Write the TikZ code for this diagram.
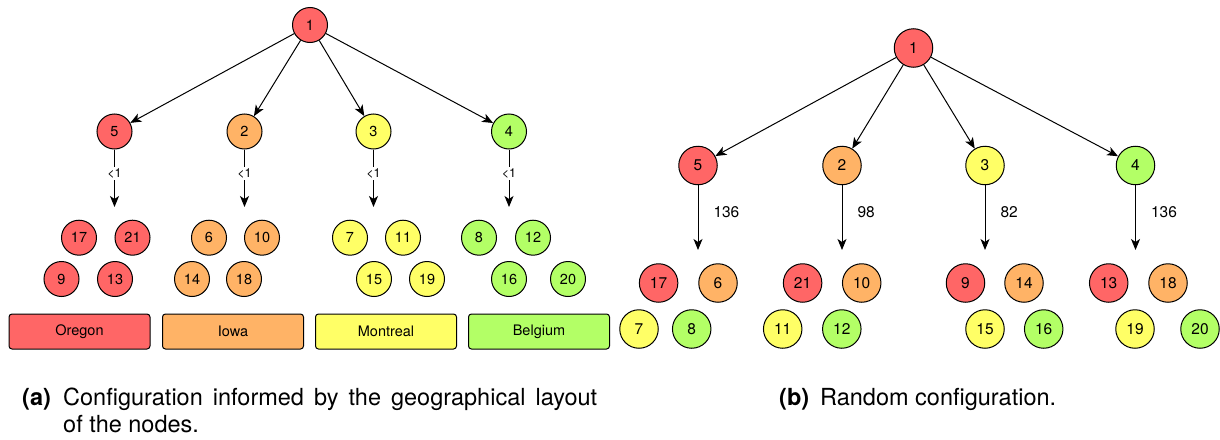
\documentclass[tikz,border=0pt]{standalone}
\usepackage{fontspec}
\setmainfont{TeX Gyre Heros}
\usetikzlibrary{arrows.meta}
\definecolor{cred}{HTML}{FF6666}
\definecolor{corange}{HTML}{FFB366}
\definecolor{cyellow}{HTML}{FFFF66}
\definecolor{cgreen}{HTML}{B3FF66}
\tikzset{
  sa/.style={circle, draw=black, line width=1pt, minimum size=35pt, inner sep=0pt, font=\fontsize{14.5}{16}\selectfont},
  sb/.style={circle, draw=black, line width=1pt, minimum size=38.5pt, inner sep=0pt, font=\fontsize{15.5}{17}\selectfont},
  fr/.style={fill=cred},
  fo/.style={fill=corange},
  fy/.style={fill=cyellow},
  fg/.style={fill=cgreen},
  arr/.style={-{Stealth[length=11pt,width=9pt,inset=3pt]}, line width=1pt},
  lbl/.style={fill=white, inner sep=1.5pt, font=\fontsize{12.5}{14}\selectfont},
  lblb/.style={anchor=west, inner sep=0pt, xshift=15pt, font=\fontsize{15.5}{17}\selectfont},
  regionbox/.style={draw=black, rounded corners=3pt, line width=1pt, minimum width=141pt, minimum height=35pt, inner sep=0pt, font=\fontsize{14.5}{16}\selectfont},
  capfont/.style={inner sep=0pt, font=\fontsize{23.5}{27}\selectfont}
}
\begin{document}
\begin{tikzpicture}[x=1pt,y=-1pt]
\useasboundingbox (0,0) rectangle (1220,439);
% ---------- (a) ----------
\node[sa,fr] (a1) at (310,25) {1};
\node[sa,fr] (a5) at (114.5,131.5) {5};
\node[sa,fo] (a2) at (244.5,131.5) {2};
\node[sa,fy] (a3) at (373.5,131.5) {3};
\node[sa,fg] (a4) at (509,131.5) {4};
\foreach \n in {a5,a2,a3,a4} \draw[arr] (a1) -- (\n);
\coordinate (a5e) at (114.5,207);
\coordinate (a2e) at (244.5,207);
\coordinate (a3e) at (373.5,207);
\coordinate (a4e) at (509,207);
\foreach \n in {a5,a2,a3,a4} \draw[arr] (\n) -- node[lbl,pos=0.42]{<1} (\n e);
% small nodes row 1
\node[sa,fr] (a17) at (79,237.7) {17};
\node[sa,fr] (a21) at (132.5,237.7) {21};
\node[sa,fo] (a6) at (209,237.7) {6};
\node[sa,fo] (a10) at (262,237.7) {10};
\node[sa,fy] (a7) at (350,237.7) {7};
\node[sa,fy] (a11) at (403,237.7) {11};
\node[sa,fg] (a8) at (479,237.7) {8};
\node[sa,fg] (a12) at (533,237.7) {12};
% small nodes row 2
\node[sa,fr] (a9) at (61.5,279) {9};
\node[sa,fr] (a13) at (115,279) {13};
\node[sa,fo] (a14) at (192,279) {14};
\node[sa,fo] (a18) at (244,279) {18};
\node[sa,fy] (a15) at (374,279) {15};
\node[sa,fy] (a19) at (427,279) {19};
\node[sa,fg] (a16) at (509,279) {16};
\node[sa,fg] (a20) at (568,279) {20};
% region boxes
\node[regionbox,fr] (oregon) at (79.5,331.5) {Oregon};
\node[regionbox,fo] (iowa) at (233,331.5) {Iowa};
\node[regionbox,fy] (montreal) at (386,331.5) {Montreal};
\node[regionbox,fg] (belgium) at (539,331.5) {Belgium};
% ---------- (b) ----------
\node[sb,fr] (b1) at (913.5,48) {1};
\node[sb,fr] (b5) at (698,165.5) {5};
\node[sb,fo] (b2) at (842,165.5) {2};
\node[sb,fy] (b3) at (985,165.5) {3};
\node[sb,fg] (b4) at (1135.5,165.5) {4};
\foreach \n in {b5,b2,b3,b4} \draw[arr] (b1) -- (\n);
\coordinate (b5e) at (698,250);
\coordinate (b2e) at (842,250);
\coordinate (b3e) at (985,250);
\coordinate (b4e) at (1135.5,250);
\draw[arr] (b5) -- node[lblb,pos=0.42]{136} (b5e);
\draw[arr] (b2) -- node[lblb,pos=0.42]{98} (b2e);
\draw[arr] (b3) -- node[lblb,pos=0.42]{82} (b3e);
\draw[arr] (b4) -- node[lblb,pos=0.42]{136} (b4e);
% small nodes row 1
\node[sb,fr] (b17) at (658.6,283) {17};
\node[sb,fo] (b6) at (718,283) {6};
\node[sb,fr] (b21) at (802.6,283) {21};
\node[sb,fo] (b10) at (861.7,283) {10};
\node[sb,fr] (b9) at (965.5,283) {9};
\node[sb,fo] (b14) at (1024,283) {14};
\node[sb,fr] (b13) at (1108.7,283) {13};
\node[sb,fo] (b18) at (1168,283) {18};
% small nodes row 2
\node[sb,fy] (b7) at (639,329) {7};
\node[sb,fg] (b8) at (691.7,329) {8};
\node[sb,fy] (b11) at (782.7,329) {11};
\node[sb,fg] (b12) at (841.8,329) {12};
\node[sb,fy] (b15) at (985,329) {15};
\node[sb,fg] (b16) at (1043.7,329) {16};
\node[sb,fy] (b19) at (1135,329) {19};
\node[sb,fg] (b20) at (1200,329) {20};
% ---------- captions ----------
\node[capfont, anchor=base west] (capa) at (22,405) {\textbf{(a)}};
\node[capfont, anchor=base west] (capa1) at (63,405) {\makebox[534pt][s]{Configuration informed by the geographical layout}};
\node[capfont, anchor=base west] (capa2) at (63,432) {of the nodes.};
\node[capfont, anchor=base west] (capb) at (779,405) {\textbf{(b)}};
\node[capfont, anchor=base west] (capb1) at (820,405) {Random configuration.};
\end{tikzpicture}
\end{document}
